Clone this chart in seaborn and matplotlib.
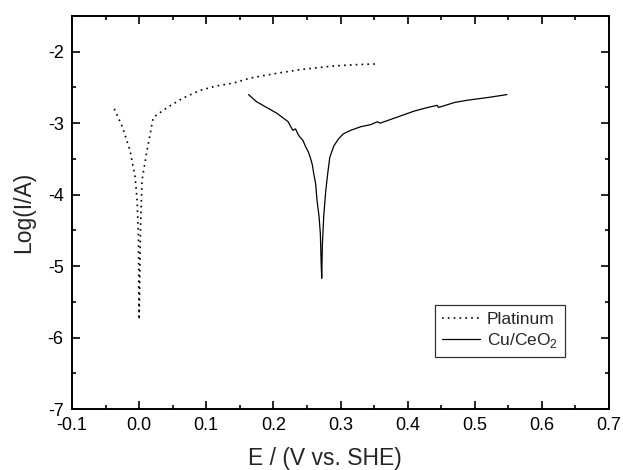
import numpy as np
import pandas as pd
import matplotlib
matplotlib.use("Agg")
import matplotlib.pyplot as plt
import seaborn as sns
from matplotlib.ticker import MultipleLocator

# Platinum (dotted) E (V vs SHE), log(I/A)
pt_E = [-0.037, -0.025, -0.0136, -0.006, -0.003, -0.001, 0.0, 0.002, 0.0043, 0.0118, 0.021,
        0.042, 0.065, 0.091, 0.115, 0.14, 0.165, 0.20, 0.24, 0.289, 0.325, 0.357]
pt_L = [-2.80, -3.05, -3.38, -3.75, -4.08, -4.6, -5.75, -4.5, -3.80, -3.38, -2.92,
        -2.78, -2.65, -2.54, -2.48, -2.44, -2.37, -2.31, -2.25, -2.20, -2.18, -2.17]

# Cu/CeO2 (solid)
cu_E = [0.163, 0.175, 0.19, 0.205, 0.215, 0.222, 0.226, 0.229, 0.233, 0.237, 0.240, 0.244,
        0.248, 0.252, 0.255, 0.258, 0.26, 0.263, 0.265, 0.268, 0.270, 0.271, 0.272,
        0.273, 0.275, 0.278, 0.281, 0.284, 0.29, 0.297, 0.304, 0.315, 0.33, 0.345, 0.355,
        0.359, 0.365, 0.389, 0.41, 0.43, 0.444, 0.446, 0.47, 0.488, 0.52, 0.548]
cu_L = [-2.60, -2.70, -2.78, -2.86, -2.93, -2.98, -3.05, -3.10, -3.08, -3.16, -3.20, -3.24,
        -3.33, -3.40, -3.48, -3.58, -3.70, -3.85, -4.08, -4.30, -4.55, -4.90, -5.17,
        -4.70, -4.30, -3.95, -3.70, -3.48, -3.32, -3.22, -3.15, -3.10, -3.05, -3.02, -2.98,
        -3.00, -2.98, -2.90, -2.83, -2.78, -2.75, -2.78, -2.71, -2.68, -2.64, -2.60]

x_ticks = [-0.1, 0.0, 0.1, 0.2, 0.3, 0.4, 0.5, 0.6, 0.7]
x_labels = ["-0.1", "0.0", "0.1", "0.2", "0.3", "0.4", "0.5", "0.6", "0.7"]
y_ticks = [-7, -6, -5, -4, -3, -2]
y_labels = ["-7", "-6", "-5", "-4", "-3", "-2"]

sns.set_style("ticks")
plt.rcParams['font.family'] = ['Liberation Sans', 'DejaVu Sans']
plt.rcParams['mathtext.fontset'] = 'custom'
plt.rcParams['mathtext.rm'] = 'Liberation Sans'

fig = plt.figure(figsize=(6.23, 4.70), dpi=100)
ax = fig.add_axes([72/623, 1-409/470, (609-72)/623, (409-16)/470])

df_pt = pd.DataFrame({"E": pt_E, "L": pt_L})
df_cu = pd.DataFrame({"E": cu_E, "L": cu_L})
sns.lineplot(data=df_pt, x="E", y="L", sort=False, ax=ax, color="black",
             linestyle=(0, (1, 2.5)), linewidth=1.2, label="Platinum")
sns.lineplot(data=df_cu, x="E", y="L", sort=False, ax=ax, color="black",
             linewidth=0.9, label="Cu/CeO$_2$")

ax.set_xlim(-0.1, 0.7)
ax.set_ylim(-7, -1.5)
ax.xaxis.set_minor_locator(MultipleLocator(0.05))
ax.yaxis.set_minor_locator(MultipleLocator(0.5))
ax.set_xticks(x_ticks)
ax.set_xticklabels(x_labels)
ax.set_yticks(y_ticks)
ax.set_yticklabels(y_labels)
ax.tick_params(which="both", direction="in", top=True, right=True, labelsize=13,
               width=1.2, color="black", labelcolor="black")
ax.tick_params(which="major", length=6)
ax.tick_params(which="minor", length=3)
ax.tick_params(axis="x", pad=6)
ax.tick_params(axis="y", pad=6)
for s in ax.spines.values():
    s.set_linewidth(1.4)
    s.set_color("black")
ax.set_xlabel("E / (V vs. SHE)", fontsize=16.5)
ax.set_ylabel("Log(I/A)", fontsize=16.5)
ax.xaxis.set_label_coords((325-72)/537, -(458-409)/393, transform=ax.transAxes)
ax.yaxis.set_label_coords(-(72-24)/537, 0.5, transform=ax.transAxes)
ax.xaxis.label.set_va("center")
ax.yaxis.label.set_va("center")

leg = ax.legend(loc="lower right", bbox_to_anchor=(565/623, 1-357/470),
                bbox_transform=fig.transFigure, frameon=True, fancybox=False,
                edgecolor="black", fontsize=12.5, handlelength=2.2, handletextpad=0.4,
                borderpad=0.4, labelspacing=0.22, borderaxespad=0)
leg.get_frame().set_linewidth(0.9)

fig.savefig("out.png", dpi=100)
